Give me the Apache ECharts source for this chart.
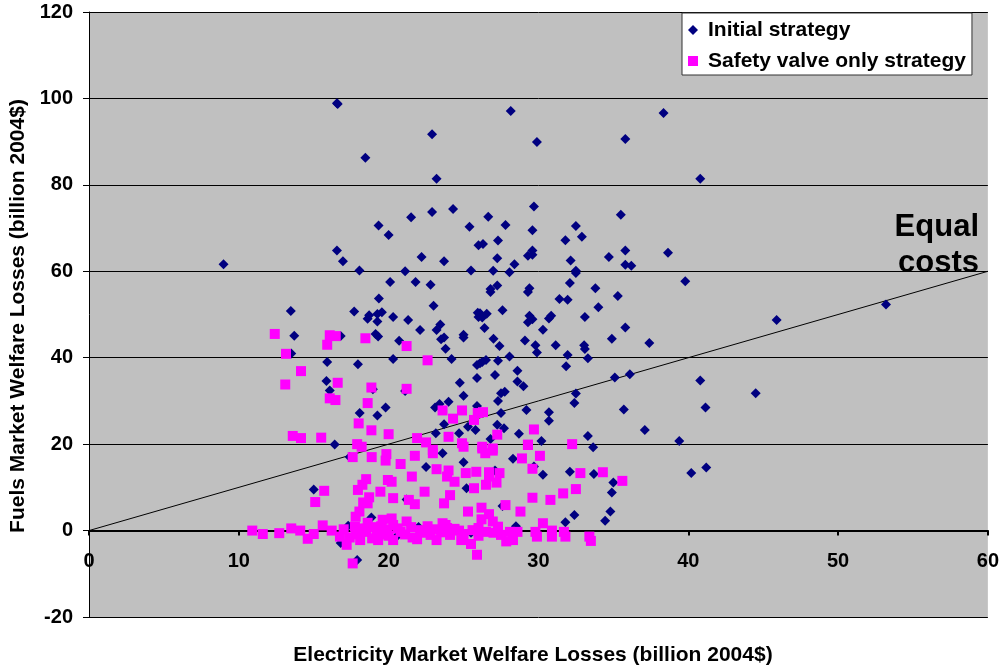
<!DOCTYPE html>
<html>
<head>
<meta charset="utf-8">
<script src="https://cdn.jsdelivr.net/npm/echarts@6/dist/echarts.min.js"></script>
<style>
html,body{margin:0;padding:0;background:#fff;}
#chart{width:1002px;height:669px;}
</style>
</head>
<body>
<div id="chart"></div>
<script>
// ---- data (billion 2004$) ----
var seriesNames = ['Initial strategy', 'Safety valve only strategy'];
var xTicks = [0, 10, 20, 30, 40, 50, 60];
var yTicks = [-20, 0, 20, 40, 60, 80, 100, 120];
var equalLine = [[0, 0], [60, 60]];
var equalLabel = 'Equal\ncosts';
var xTitle = 'Electricity Market Welfare Losses (billion 2004$)';
var yTitle = 'Fuels Market Welfare Losses (billion 2004$)';

var initialStrategy = [
[16.55,98.9],[16.6,98.7],[22.9,91.7],[18.45,86.3],[23.2,81.4],[24.3,74.4],[22.9,73.7],[21.5,72.5],[19.33,70.6],[20.0,68.4],[25.4,70.3],[26.0,66.0],[16.55,64.8],[16.95,62.3],[8.98,61.6],[18.05,60.2],[22.2,63.3],[23.7,62.3],[21.1,60.0],[25.5,60.2],[20.1,57.5],[21.8,57.5],[22.8,56.9],
[28.15,97.1],[38.35,96.6],[29.9,89.9],[35.8,90.6],[40.8,81.4],[29.7,75.0],[26.65,72.6],[27.8,70.7],[29.6,69.5],[32.5,70.5],[32.9,68.0],[35.5,73.1],[31.8,67.2],[26.3,66.3],[27.3,67.1],[27.25,63.0],[28.4,61.6],[26.98,60.1],[28.07,59.8],[29.3,63.6],[29.6,64.8],[29.6,63.8],[32.15,62.5],[32.5,60.1],[32.5,59.6],[32.1,57.3],[34.7,63.3],[35.8,64.8],[35.8,61.5],[36.2,61.3],[38.65,64.3],[39.8,57.7],[27.25,56.7],[26.8,55.9],[29.4,56.1],[33.8,56.1],
[26.8,55.2],[29.3,55.2],[35.3,54.3],[31.4,53.6],[31.95,53.4],[34.0,51.7],[45.9,48.7],[53.2,52.3],[27.6,51.0],[26.1,50.3],[26.55,50.2],[26.25,49.3],[29.4,49.7],[29.6,48.9],[29.3,48.2],[30.7,49.1],[30.85,49.7],[33.1,49.4],[26.4,46.9],[30.3,46.5],[35.8,47.0],[27.0,44.4],[27.4,42.7],[29.1,44.0],[29.8,42.9],[29.9,41.2],[31.15,42.9],[33.05,42.9],[33.1,42.0],[33.3,39.9],[34.9,44.4],[37.4,43.4],[31.95,40.6],[31.85,38.0],[26.5,39.5],[26.25,39.0],[26.1,38.7],[27.3,39.3],[28.07,40.3],[28.6,37.0],[27.1,36.0],[28.6,34.5],[29.0,33.4],[35.1,35.4],[36.1,36.2],[40.8,34.7],[44.5,31.8],[32.5,31.7],[32.4,29.5],[27.5,31.8],[27.75,32.1],[27.3,30.0],[27.5,27.2],[29.2,27.9],[30.7,27.4],[30.7,25.4],[35.7,28.0],[41.15,28.5],[27.25,24.5],[27.7,23.7],[28.7,22.4],[37.1,23.3],[33.3,21.9],[26.8,21.2],[30.2,20.7],[39.4,20.7],[33.65,19.3],
[19.35,53.7],[23.0,52.0],[13.47,50.8],[17.7,50.7],[18.7,49.8],[18.6,49.0],[19.25,50.1],[19.55,50.5],[19.25,48.4],[20.3,49.4],[21.3,48.7],[23.45,47.7],[23.2,46.4],[22.1,46.4],[25.95,50.4],[26.0,49.4],[13.7,45.1],[16.8,45.0],[19.13,45.5],[19.3,44.9],[20.7,43.9],[23.5,44.3],[23.7,44.7],[25.0,45.3],[25.0,44.7],[23.8,42.1],[13.5,41.0],[15.9,39.0],[17.95,38.5],[20.3,39.7],[24.2,39.7],[25.9,38.3],[25.9,35.3],[15.85,34.6],[16.07,32.4],[18.95,32.7],[21.1,32.3],[24.75,34.2],[25.0,31.2],[24.0,29.8],[23.4,29.3],[23.1,28.5],[25.9,28.8],[19.8,28.5],[18.07,27.2],[19.25,26.6],[23.7,24.6],[25.3,24.0],[25.8,23.3],[23.15,22.5],[24.7,22.5],[16.4,19.9],
[17.4,17.0],[22.5,14.7],[15.0,9.5],[21.2,7.2],[18.85,3.0],[17.3,1.1],[16.8,-2.9],[17.9,-6.8],[23.6,17.9],[25.0,15.8],[28.3,16.6],[25.2,9.8],[27.1,13.9],[29.7,14.8],[30.3,12.9],[32.1,13.6],[33.7,13.1],[35.0,11.1],[34.9,8.8],[34.8,4.4],[34.45,2.3],[32.4,3.6],[31.8,1.9],[40.2,13.3],[41.2,14.6],[27.6,5.7],
[19.5,1.5],[22.0,0.8],[25.5,-0.5],[28.5,1.0],[20.5,-1.5]
];

var safetyValveOnly = [
[12.4,45.5],[16.07,45.2],[16.47,45.0],[15.9,43.0],[18.45,44.5],[21.2,42.7],[13.15,40.9],[22.6,39.4],[14.15,36.9],[13.1,33.8],[16.6,34.2],[18.85,33.1],[21.2,32.8],[16.07,30.6],[16.45,30.2],[18.6,29.5],[23.6,27.8],[24.9,27.8],[24.3,25.9],[25.7,25.6],[25.95,27.2],[18.0,24.8],[18.85,23.2],[20.0,22.3],[13.6,21.9],[14.15,21.4],[15.5,21.5],[17.9,20.0],[18.2,19.4],[21.9,21.4],[22.5,20.4],[24.0,21.7],[24.9,20.2],[25.0,19.4],[22.95,18.7],
[26.3,27.4],[27.25,22.2],[29.7,23.4],[29.3,19.9],[32.25,20.0],[26.25,19.4],[26.95,19.0],
[22.95,17.9],[21.75,17.3],[19.85,17.7],[19.8,16.2],[18.87,17.0],[17.6,17.0],[20.8,15.4],[23.2,14.2],[21.55,12.5],[18.5,11.9],[18.25,10.6],[19.95,11.7],[20.2,11.3],[15.7,9.2],[17.95,9.4],[19.45,9.0],[22.4,9.0],[20.3,7.5],[18.7,7.7],[18.6,6.3],[18.3,6.5],[15.1,6.6],[21.35,7.1],[21.75,6.1],[18.05,4.4],[17.8,3.2],
[10.9,0],[11.6,-0.8],[12.7,-0.6],[13.5,0.5],[14.1,0],[14.6,-1.9],[15.0,-0.8],[15.6,1.2],[16.2,0],[16.75,-1.4],[17.2,-3.3],[17.75,0.9],[17.8,-0.9],[18.5,0.1],[18.9,-1.8],[19.6,2.5],[19.6,-0.9],[20.3,1.3],[21.2,2.1],[21.1,-0.9],[22.1,0.1],[22.8,-1.0],[23.2,-2.2],[20.3,-2.2],[19.3,-2.2],[18.1,-2.2],[17.6,-7.6],
[18.0,0.5],[18.3,-0.3],[19.0,0.8],[19.2,-0.5],[19.9,0.2],[20.0,-1.2],[20.6,0.5],[20.8,-0.3],[21.5,0.8],[21.6,-1.6],[22.4,-0.5],[22.6,1.0],[23.0,0.3],[23.5,-0.4],[23.9,0.6],[19.5,1.0],[20.2,2.8],[18.6,1.8],[21.9,-2.0],[17.4,-1.6],[17.0,0.3],
[29.3,19.8],[26.25,19.0],[26.45,17.9],[26.95,18.5],[28.9,16.7],[30.1,17.3],[29.6,14.3],[32.8,13.3],[34.3,13.5],[35.6,11.5],[24.0,13.9],[23.9,12.5],[25.15,13.3],[25.85,13.6],[26.7,13.5],[26.7,12.5],[27.4,13.3],[24.4,11.3],[26.5,10.6],[27.2,11.1],[25.7,9.8],[24.1,8.2],[23.7,6.3],[31.65,8.6],[32.5,9.6],[29.6,7.6],[30.8,7.1],[27.8,5.9],[28.8,4.4],[25.3,4.4],[26.2,5.3],[26.2,2.6],[26.7,3.8],[30.3,1.7],
[23.6,1.7],[24.7,0],[25.6,0.1],[26.5,-0.3],[27.3,0.9],[27.5,-1.0],[28.1,-0.3],[28.6,-0.3],[29.8,-0.3],[29.9,-1.4],[30.9,0],[30.9,-1.4],[31.7,-0.3],[31.8,-1.4],[33.4,-1.4],[33.5,-2.4],[25.9,-5.6],[27.85,-2.5],[28.3,-2.2],[25.5,-3.1],[24.85,-2.2],[24.1,-1.0],[23.8,1.3],[26.95,2.1],
[25.0,-0.8],[26.0,-1.2],[27.0,-0.5],[24.4,0.4],[26.0,0.6]
];

var FONT = '"Liberation Sans", Arial, sans-serif';
var W = 1002, H = 669;
var G = {left: 89, right: 14, top: 12, bottom: 52};
var yMin = yTicks[0], yMax = yTicks[yTicks.length - 1];
var plotH = H - G.top - G.bottom;
// shift the x axis up so it sits on y = 0 (labels follow it)
var xAxisOffset = -plotH * (0 - yMin) / (yMax - yMin);

var chart = echarts.init(document.getElementById('chart'), null, {renderer: 'canvas'});
chart.setOption({
  animation: false,
  backgroundColor: '#ffffff',
  grid: {
    left: G.left, right: G.right, top: G.top, bottom: G.bottom,
    show: true, backgroundColor: '#C0C0C0', borderWidth: 0
  },
  legend: {
    orient: 'vertical',
    left: 682, top: 13,
    padding: [5, 6, 2, 6],
    itemGap: 7,
    itemWidth: 10, itemHeight: 10,
    backgroundColor: '#ffffff',
    borderColor: '#333', borderWidth: 1,
    textStyle: {fontFamily: FONT, fontWeight: 'bold', fontSize: 21, color: '#000', lineHeight: 24,
                padding: [0, 0, 0, 5]},
    data: [
      {name: seriesNames[0], icon: 'diamond'},
      {name: seriesNames[1], icon: 'rect'}
    ]
  },
  xAxis: {
    type: 'value', min: xTicks[0], max: xTicks[xTicks.length - 1], interval: 10,
    position: 'bottom', offset: xAxisOffset,
    axisLine: {show: true, onZero: false, lineStyle: {color: '#000', width: 2}},
    axisTick: {show: true, inside: false, length: 5, lineStyle: {color: '#000', width: 2}},
    axisLabel: {margin: 21, fontFamily: FONT, fontWeight: 'bold', fontSize: 20, color: '#000'},
    splitLine: {show: false}
  },
  yAxis: {
    type: 'value', min: yMin, max: yMax, interval: 20,
    axisLine: {show: true, onZero: false, lineStyle: {color: '#000', width: 1}},
    axisTick: {show: true, inside: false, length: 6, lineStyle: {color: '#000'}},
    axisLabel: {margin: 16, fontFamily: FONT, fontWeight: 'bold', fontSize: 20, color: '#000'},
    splitLine: {show: true, lineStyle: {color: '#000', width: 1}}
  },
  series: [
    {
      type: 'line', data: equalLine, symbol: 'none', silent: true, z: 1,
      lineStyle: {color: '#000', width: 1}
    },
    {
      name: seriesNames[0], type: 'scatter', data: initialStrategy, z: 2,
      symbol: 'diamond', symbolSize: [10, 10],
      itemStyle: {color: '#000080', opacity: 1}
    },
    {
      name: seriesNames[1], type: 'scatter', data: safetyValveOnly, z: 3,
      symbol: 'rect', symbolSize: [10, 10],
      itemStyle: {color: '#FF00FF', opacity: 1}
    }
  ],
  graphic: [
    {type: 'text', x: 979, y: 209, z: 10,
     style: {text: equalLabel, textAlign: 'right', textVerticalAlign: 'top', fill: '#000',
             font: 'bold 31px ' + FONT, lineHeight: 36}},
    {type: 'text', x: 533, y: 655, z: 10,
     style: {text: xTitle, textAlign: 'center', textVerticalAlign: 'middle', fill: '#000',
             font: 'bold 21px ' + FONT}},
    {type: 'text', x: 18, y: 316, rotation: Math.PI / 2, z: 10,
     style: {text: yTitle, textAlign: 'center', textVerticalAlign: 'middle', fill: '#000',
             font: 'bold 21px ' + FONT}}
  ]
});
</script>
</body>
</html>
